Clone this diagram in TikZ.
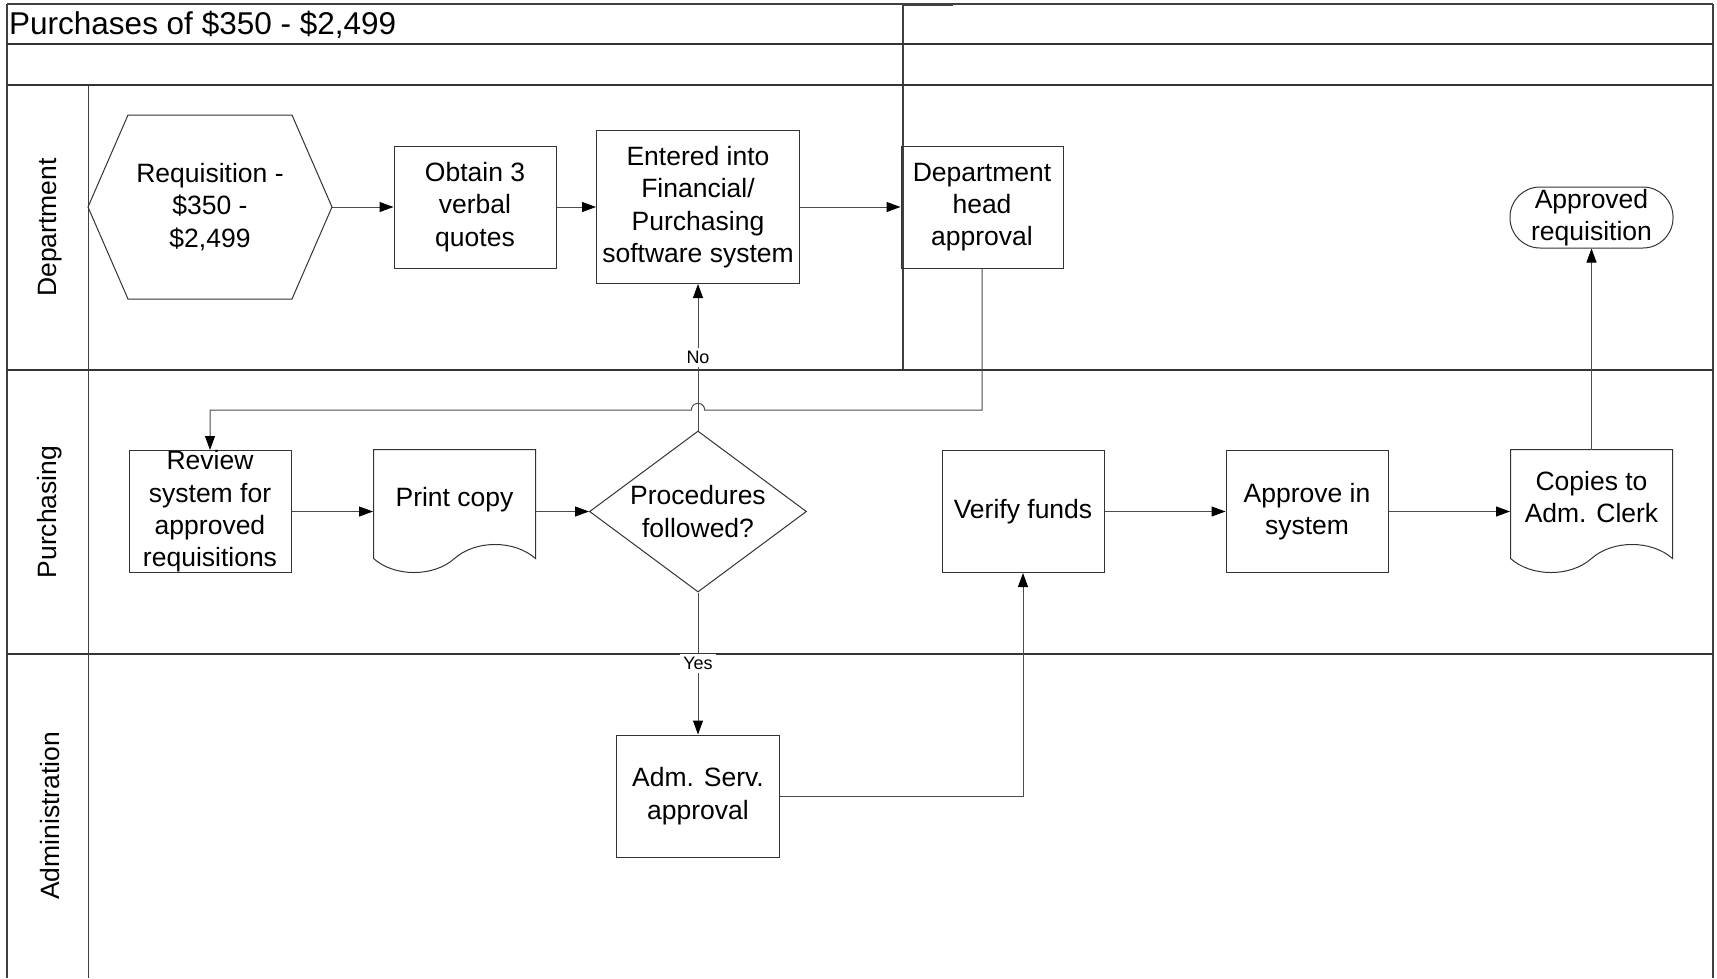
\documentclass[tikz,border=0pt]{standalone}
\usepackage{fontspec}
\setmainfont{Liberation Sans}
\usetikzlibrary{shapes.geometric,arrows.meta}
\newcommand\boxfont{\fontsize{26.5pt}{32.3pt}\selectfont}
\newcommand\lblfont{\fontsize{18pt}{20pt}\selectfont}
\newcommand\titlefont{\fontsize{31.5pt}{36pt}\selectfont}

\begin{document}
\begin{tikzpicture}[x=1pt,y=-1pt,
	lane/.style={draw=black!80,line width=1.6pt},
	frame/.style={draw=black!75,line width=1.1pt},
	shapeline/.style={draw=black!80,line width=1pt},
	box/.style={shapeline,rectangle,inner sep=0pt,align=center,minimum width=162pt,minimum height=122pt,font=\boxfont},
	ghost/.style={box,draw=none},
	decision/.style={shapeline,diamond,aspect=1.35,inner sep=0pt,align=center,minimum width=217pt,minimum height=161pt,font=\boxfont},
	terminal/.style={box,rounded corners=30pt,minimum width=163pt,minimum height=61pt},
	flow/.style={draw=black!70,line width=1pt,-{Triangle[length=14pt,width=10pt,color=black]}},
	lbl/.style={fill=white,inner sep=3pt,font=\lblfont},
	lanename/.style={rotate=90,inner sep=0pt,font=\boxfont}]
	\useasboundingbox (0,0) rectangle (1717,978);

	\draw[frame] (7,4) -- (1713,4);
	\draw[frame] (903,5) -- (953,5);
	\draw[frame] (7,4) -- (7,978);
	\draw[frame] (1713,4) -- (1713,978);
	\draw[frame] (88.7,85) -- (88.7,978);
	\draw[frame] (903,4) -- (903,370);
	\draw[lane] (7,44) -- (1713,44);
	\draw[lane] (7,85) -- (1713,85);
	\draw[lane] (7,370) -- (1713,370);
	\draw[lane] (7,654) -- (1713,654);

	\node[anchor=base west,inner sep=0pt,font=\titlefont] (title) at (9,34.3) {Purchases of \$350 - \$2,499};
	\node[lanename] (deptlane) at (50,227.5) {Department};
	\node[lanename] (purchlane) at (50,512) {Purchasing};
	\node[lanename] (adminlane) at (50,816) {Administration};

	\node[ghost,minimum width=163pt,minimum height=183pt] (req) at (210,207) {Requisition -\\\$350 -\\\$2,499};
	\draw[shapeline] (req.north west) -- (req.north east) -- ([xshift=40pt]req.east) -- (req.south east) -- (req.south west) -- ([xshift=-40pt]req.west) -- cycle;
	\coordinate (reqtip) at ([xshift=40pt]req.east);
	\node[box] (quotes) at (475,207) {Obtain 3\\verbal\\quotes};
	\node[box,minimum width=203pt,minimum height=153pt] (entered) at (698,207) {Entered into\\Financial/\\Purchasing\\software system};
	\node[box] (headapp) at (982,207) {Department\\head\\approval};
	\node[terminal] (approved) at (1591.5,217.5) {Approved\\requisition};

	\node[box] (review) at (210,511.5) {Review\\system for\\approved\\requisitions};
	\node[ghost,minimum height=100pt] (printcopy) at (454.5,500) {Print copy};
	\node[decision] (procedures) at (698,511.5) {Procedures\\followed?};
	\node[box] (verify) at (1023,511.5) {Verify funds};
	\node[box] (approvesys) at (1307,511.5) {Approve in\\system};
	\node[ghost,minimum height=94pt] (copies) at (1591.5,497) {Copies to\\Adm. Clerk};
	\foreach \d in {printcopy,copies}
		\draw[shapeline] ([shift={(-81,109)}]\d.north) -- ([shift={(-81,0)}]\d.north) -- ([shift={(81,0)}]\d.north) -- ([shift={(81,109)}]\d.north)
			.. controls ([shift={(60,90.3)}]\d.north) and ([shift={(21,90.3)}]\d.north) .. ([shift={(0,109)}]\d.north)
			.. controls ([shift={(-21,127.7)}]\d.north) and ([shift={(-60,127.7)}]\d.north) .. ([shift={(-81,109)}]\d.north) -- cycle;

	\node[box,minimum width=163pt] (admserv) at (698,796) {Adm. Serv.\\approval};

	\coordinate (hopR) at (704.7,410);
	\draw[flow] (reqtip) -- (quotes.west);
	\draw[flow] (quotes.east) -- (entered.west);
	\draw[flow] (entered.east) -- (headapp.west);
	\draw[flow] (procedures.north) -- node[lbl] (nolbl) {No} (entered.south);
	\draw[flow] (headapp.south) |- (hopR) arc[start angle=0,end angle=180,radius=6.7pt] -- (review.north |- hopR) -- (review.north);
	\draw[flow] (review.east) -- (review.east -| printcopy.west);
	\draw[flow] (procedures.west -| printcopy.east) -- (procedures.west);
	\draw[flow] (procedures.south) -- node[lbl] (yeslbl) {Yes} (admserv.north);
	\draw[flow] (admserv.east) -| (verify.south);
	\draw[flow] (verify.east) -- (approvesys.west);
	\draw[flow] (approvesys.east) -- (approvesys.east -| copies.west);
	\draw[flow] (copies.north) -- (approved.south);
\end{tikzpicture}
\end{document}
